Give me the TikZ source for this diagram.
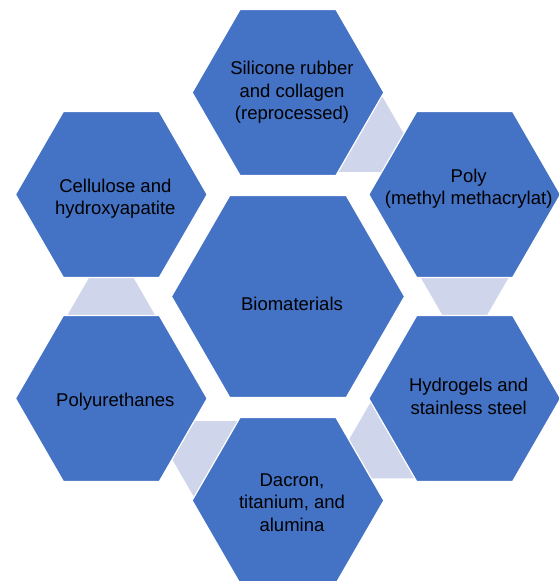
\documentclass[tikz,border=0pt]{standalone}
\usepackage{fontspec}
\setmainfont{Liberation Sans}
\usetikzlibrary{shapes.geometric}
\definecolor{hexblue}{RGB}{68,114,196}
\definecolor{hexlight}{RGB}{207,213,234}

\begin{document}
\begin{tikzpicture}[x=1pt, y=1pt,
    hex/.style={regular polygon, regular polygon sides=6, inner sep=0pt, fill=hexblue, draw=white, line width=1.2pt},
    bighex/.style={hex, minimum size=233.2pt},
    outerhex/.style={hex, minimum size=191.8pt},
    linkhex/.style={hex, fill=hexlight, minimum size=89.2pt},
    hextext/.style={align=center, text=black, xshift=4pt, font=\fontsize{18.5}{22.5}\selectfont}]
  \useasboundingbox (-288, -284.5) rectangle (270, 296.5);
  \foreach \a [count=\i] in {66, 6, -54, -114, -174}
    \node[linkhex] (link\i) at (\a:177.7) {};
  \node[outerhex] (silicone) at (90:204) {};
  \node[outerhex] (pmma) at (30:204) {};
  \node[outerhex] (hydrogel) at (-30:204) {};
  \node[outerhex] (dacron) at (-90:204) {};
  \node[outerhex] (polyurethane) at (210:204) {};
  \node[outerhex] (cellulose) at (150:204) {};
  \node[bighex] (bio) at (0, 0) {};
  \node[hextext] (silicone-txt) at (silicone) {Silicone rubber\\and collagen\\(reprocessed)};
  \node[hextext, yshift=6pt] (pmma-txt) at (pmma) {Poly\\(methyl methacrylat)};
  \node[hextext, yshift=2pt] (hydrogel-txt) at (hydrogel) {Hydrogels and\\stainless steel};
  \node[hextext, yshift=-2pt] (dacron-txt) at (dacron) {Dacron,\\titanium, and\\alumina};
  \node[hextext, yshift=-3pt] (polyurethane-txt) at (polyurethane) {Polyurethanes};
  \node[hextext, yshift=-4pt] (cellulose-txt) at (cellulose) {Cellulose and\\hydroxyapatite};
  \node[hextext, yshift=-7pt] (bio-txt) at (bio) {Biomaterials};
\end{tikzpicture}
\end{document}
